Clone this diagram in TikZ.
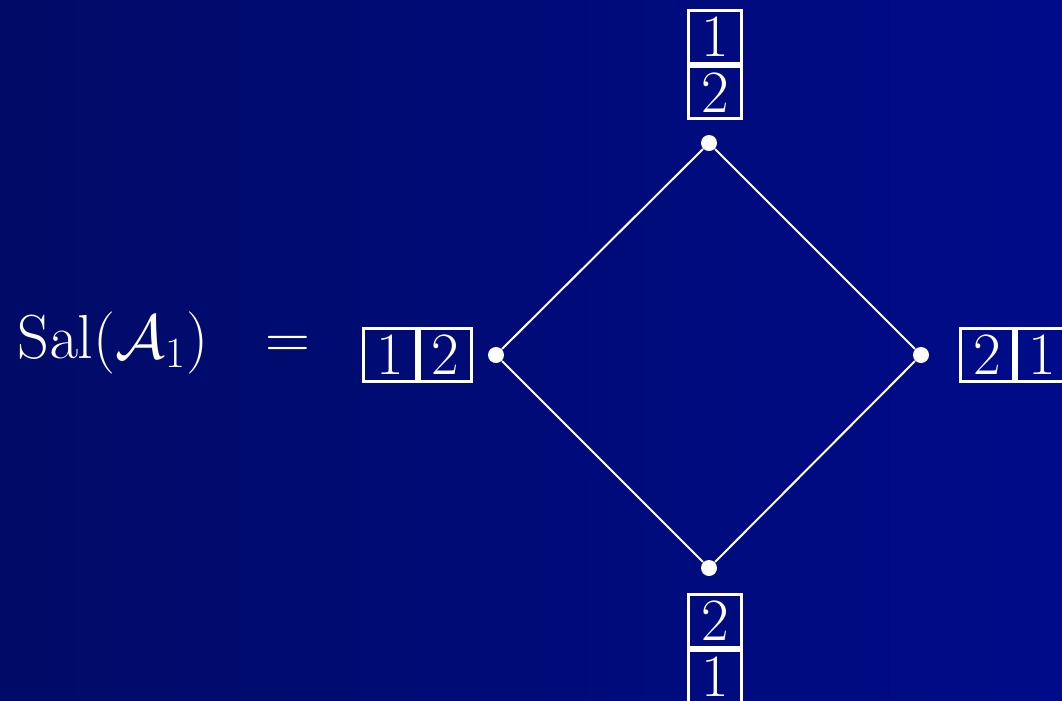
\documentclass[tikz,border=0pt]{standalone}
\usepackage{amssymb}
\usepackage{tikz}
\usetikzlibrary{positioning,calc}
\usepackage{xcolor}
\definecolor{salDeep}{HTML}{000A56}
\definecolor{salBright}{HTML}{000C9A}
\definecolor{salInk}{HTML}{FFFFFF}
\pgfdeclarehorizontalshading{salbg}{100bp}{color(0bp)=(salDeep); color(100bp)=(salBright)}
\tikzset{
  cell/.style    = {draw=salInk, line width=1.2pt, minimum size=21pt,
                    inner sep=0pt, text=salInk},
  vertex/.style  = {circle, fill=salInk, inner sep=0pt, minimum size=6.4pt},
  edge/.style    = {draw=salInk, line width=0.8pt},
  lhs/.style     = {text=salInk, inner sep=0pt, anchor=base west},
}

\begin{document}
\begin{tikzpicture}[x=0.4pt, y=-0.4pt, node distance=0pt,
    every node/.style={font=\fontsize{24}{29}\selectfont}]
  \useasboundingbox (0,0) rectangle (1062,701);
  \shade[shading=salbg] (0,0) rectangle (1062,701);

  % left hand side
  \node[lhs] (sal) at (17,358) {$\mathrm{Sal}(\mathcal{A}_1)$};
  \node[lhs] (eq) at (265,358) {$=$};

  % the four vertices
  \node[vertex] (vtop)   at (709,143) {};
  \node[vertex] (vleft)  at (496,355) {};
  \node[vertex] (vright) at (921,355) {};
  \node[vertex] (vbot)   at (709,568) {};

  \draw[edge] (vleft) -- (vtop) -- (vright) -- (vbot) -- (vleft);

  % tableaux
  \node[cell] (top1) at (715,37) {1};
  \node[cell, below=of top1] (top2) {2};
  \node[cell] (left1) at (390,355) {1};
  \node[cell, right=of left1] (left2) {2};
  \node[cell] (right1) at (987,355) {2};
  \node[cell, right=of right1] (right2) {1};
  \node[cell] (bot1) at (715,621) {2};
  \node[cell, below=of bot1] (bot2) {1};
\end{tikzpicture}
\end{document}
